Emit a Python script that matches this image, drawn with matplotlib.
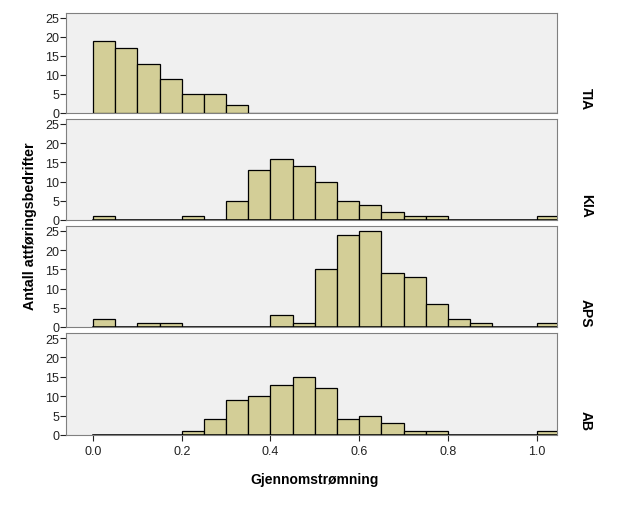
import matplotlib
matplotlib.use("Agg")
import matplotlib.pyplot as plt

plt.rcParams['font.family'] = ['Liberation Sans', 'DejaVu Sans']

bin_edges = [round(0.05 * i, 2) for i in range(22)]  # 0.00 .. 1.05
groups = ["TIA", "KIA", "APS", "AB"]
tia = [19, 17, 13, 9, 5, 5, 2, 0, 0, 0, 0, 0, 0, 0, 0, 0, 0, 0, 0, 0, 0]
kia = [1, 0, 0, 0, 1, 0, 5, 13, 16, 14, 10, 5, 4, 2, 1, 1, 0, 0, 0, 0, 1]
aps = [2, 0, 1, 1, 0, 0, 0, 0, 3, 1, 15, 24, 25, 14, 13, 6, 2, 1, 0, 0, 1]
ab = [0, 0, 0, 0, 1, 4, 9, 10, 13, 15, 12, 4, 5, 3, 1, 1, 0, 0, 0, 0, 1]
counts = [tia, kia, aps, ab]
y_ticks = [0, 5, 10, 15, 20, 25]
x_ticks = [0.0, 0.2, 0.4, 0.6, 0.8, 1.0]
x_tick_labels = ["0.0", "0.2", "0.4", "0.6", "0.8", "1.0"]

W, H = 631, 506
fig = plt.figure(figsize=(W / 100, H / 100), dpi=100)

left, right = 66, 557
panels = [(14, 114), (120, 221), (227, 328), (334, 436)]
bar_color = "#D3CE97"
bg = "#F0F0F0"

for i, (top, bot) in enumerate(panels):
    ax = fig.add_axes([left / W, 1 - bot / H, (right - left) / W, (bot - top) / H])
    ax.set_facecolor(bg)
    lefts = bin_edges[:-1]
    widths = [bin_edges[j + 1] - bin_edges[j] for j in range(len(lefts))]
    ax.bar(lefts, counts[i], width=widths, align='edge', color=bar_color,
           edgecolor='black', linewidth=0.9, zorder=3)
    if i > 0:
        ax.plot([bin_edges[0], bin_edges[-1]], [0, 0], color='black', lw=1.1, zorder=4)
    ax.set_xlim(-0.061, 1.046)
    ax.set_ylim(0, 26.3)
    ax.set_yticks(y_ticks)
    ax.tick_params(axis='y', direction='out', length=4, width=0.8, labelsize=9,
                   colors='#222222', pad=1)
    for s in ax.spines.values():
        s.set_color('#808080')
        s.set_linewidth(0.8)
    if i < 3:
        ax.set_xticks([])
    else:
        ax.set_xticks(x_ticks)
        ax.set_xticklabels(x_tick_labels)
        ax.tick_params(axis='x', direction='out', length=4, width=0.8, labelsize=9,
                       colors='#222222', pad=3)
    fig.text(586 / W, 1 - (bot - 15) / H, groups[i], rotation=-90,
             ha='center', va='center', fontsize=10, fontweight='bold')

fig.text(315 / W, 1 - 480 / H, "Gjennomstrømning",
         ha='center', va='center', fontsize=10, fontweight='bold')
fig.text(30 / W, 1 - 226 / H, "Antall attføringsbedrifter", rotation=90,
         ha='center', va='center', fontsize=10.3, fontweight='bold')

fig.savefig("out.png", dpi=100, facecolor='white')
